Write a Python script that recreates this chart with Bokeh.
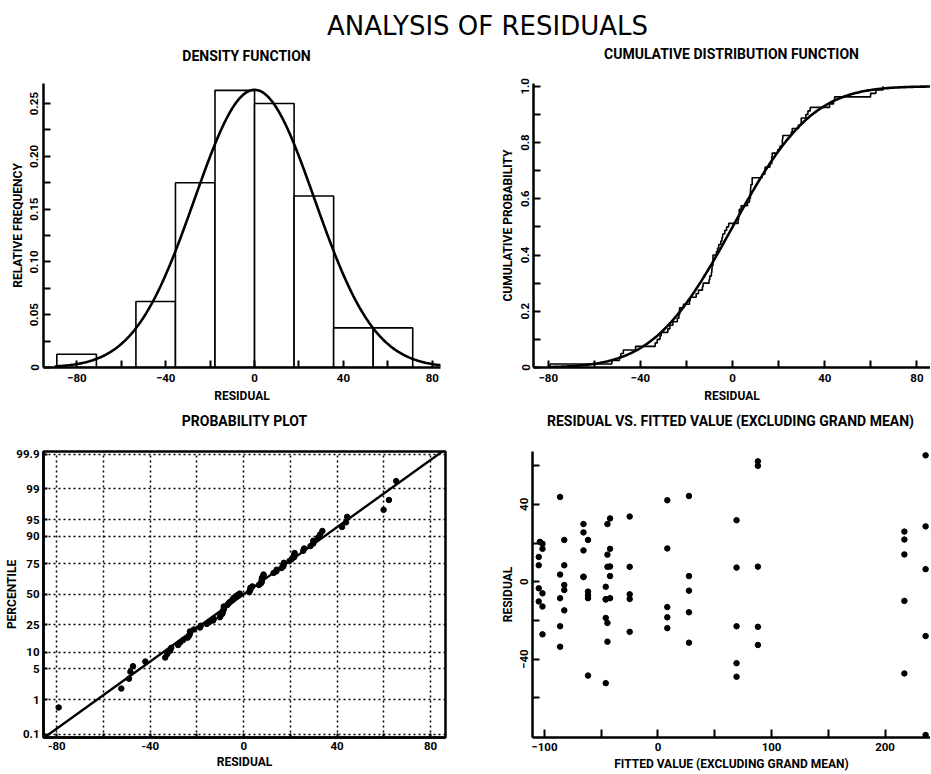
import numpy as np
from statistics import NormalDist
from bokeh.plotting import figure
from bokeh.layouts import column, row
from bokeh.models import FixedTicker, Range1d
from bokeh.embed import file_html
from bokeh.resources import INLINE
from bokeh.core.properties import value

# ---------------- data ----------------
MAIN_TITLE = "ANALYSIS OF RESIDUALS"
TITLE_DENSITY = "DENSITY FUNCTION"
TITLE_CDF = "CUMULATIVE DISTRIBUTION FUNCTION"
TITLE_PROB = "PROBABILITY PLOT"
TITLE_SCATTER = "RESIDUAL VS. FITTED VALUE (EXCLUDING GRAND MEAN)"

# fitted value (excluding grand mean) of each observation
FITTED = [
    -105.0, -105.0, -105.0, -105.0, -104.0,
    -101.7, -101.7, -101.7, -101.7, -101.7,
    -86.2, -86.2, -86.2, -86.2, -86.2,
    -82.5, -82.5, -82.5, -82.5, -82.5,
    -65.6, -65.6, -65.6, -65.6, -65.6,
    -61.6, -61.6, -61.6, -61.6, -61.6,
    -46.0, -46.0, -46.0, -46.0, -46.0,
    -44.5, -44.5, -44.5, -44.5, -44.5,
    -42.2, -42.2, -42.2, -42.2, -42.2,
    -24.9, -24.9, -24.9, -24.9, -24.9,
    8.2, 8.2, 8.2, 8.2, 8.2,
    27.3, 27.3, 27.3, 27.3, 27.3,
    69.2, 69.2, 69.2, 69.2, 69.2,
    88.0, 88.0, 88.0, 88.0, 88.0,
    217.0, 217.0, 217.0, 217.0, 217.0,
    235.7, 235.7, 235.7, 235.7, 235.7,
]
# residual of each observation
RESIDUALS = [
    12.8, 8.5, -3.4, -10.2, 20.6,
    19.6, 17.0, -6.0, -12.8, -27.2,
    43.8, 3.7, -8.5, -23.0, -33.6,
    21.6, 8.5, -1.7, -4.3, -14.8,
    29.8, 25.5, 16.2, 2.6, 2.4,
    21.6, -5.1, -7.0, -8.5, -48.5,
    -2.6, -9.0, -9.2, -18.7, -52.4,
    29.8, 14.0, 7.7, -21.3, -31.0,
    32.7, 17.0, 7.9, 2.9, -8.5,
    33.7, 7.7, -6.5, -8.9, -25.9,
    42.1, 17.2, -13.1, -18.4, -24.0,
    44.3, 2.9, -4.6, -15.8, -31.5,
    31.8, 7.3, -23.0, -42.1, -49.1,
    62.2, 59.9, 7.8, -23.3, -32.7,
    25.9, 21.8, 14.1, -9.9, -47.4,
    65.3, 28.6, 6.5, -28.1, -79.2,
]

BIN_EDGES = [-89.0, -71.2, -53.4, -35.6, -17.8, 0.0, 17.8, 35.6, 53.4, 71.2]
MU = 0.0       # fitted normal mean
SIGMA = 27.0   # fitted normal standard deviation

RES_TICKS = [-80, -40, 0, 40, 80]
RES_MINOR = [-60, -20, 20, 60]
DENS_TICKS = [0.0, 0.05, 0.1, 0.15, 0.2, 0.25]
DENS_LABELS = ["0", "0.05", "0.10", "0.15", "0.20", "0.25"]
DENS_MINOR = [0.025, 0.075, 0.125, 0.175, 0.225]
CDF_TICKS = [0.0, 0.2, 0.4, 0.6, 0.8, 1.0]
CDF_LABELS = ["0", "0.2", "0.4", "0.6", "0.8", "1.0"]
CDF_MINOR = [0.1, 0.3, 0.5, 0.7, 0.9]
PROB_XTICKS = [-80, -60, -40, -20, 0, 20, 40, 60, 80]
PROB_XLABELS = ["-80", "", "-40", "", "0", "", "40", "", "80"]
PCT_TICKS = [0.1, 1, 5, 10, 25, 50, 75, 90, 95, 99, 99.9]
PCT_LABELS = ["0.1", "1", "5", "10", "25", "50", "75", "90", "95", "99", "99.9"]
FIT_TICKS = [-100, 0, 100, 200]
FIT_MINOR = [-50, 50, 150]
RESY_TICKS = [-40, 0, 40]
RESY_MINOR = [-60, -20, 20, 60]

# ---------------- styling helpers ----------------
FONT = "Roboto"
SUB_SIZE = "14px"


def make_fig(width, height, xr, yr, bl, br, bt, bb):
    p = figure(width=width, height=height, x_range=Range1d(*xr), y_range=Range1d(*yr),
               output_backend="svg", toolbar_location=None, title=None,
               min_border_left=bl, min_border_right=br, min_border_top=bt, min_border_bottom=bb)
    p.grid.visible = False
    p.outline_line_color = None
    p.background_fill_color = "white"
    p.border_fill_color = "white"
    return p


def make_strip(width, height):
    s = figure(width=width, height=height, x_range=Range1d(0, width), y_range=Range1d(0, height),
               x_axis_location=None, y_axis_location=None, min_border=0, title=None,
               output_backend="svg", toolbar_location=None)
    s.outline_line_color = None
    s.grid.visible = False
    return s


def strip_text(s, x, y_from_top, text, font, size, style):
    s.text(x=[x], y=[s.height - y_from_top], text=[text], text_align="center",
           text_baseline="middle", text_font=value(font), text_font_size=size,
           text_font_style=style, text_color="black")


def style_axis(ax, ticks, minor, labels, label, orient="horizontal", lab_so=5, axlab_so=4, tick_len=7):
    ax.ticker = FixedTicker(ticks=ticks, minor_ticks=minor)
    if labels is not None:
        ax.major_label_overrides = {t: s for t, s in zip(ticks, labels)}
    ax.axis_label = label
    ax.axis_line_width = 2.5
    ax.axis_line_color = "black"
    ax.major_tick_in = tick_len
    ax.major_tick_out = 0
    ax.minor_tick_in = tick_len
    ax.minor_tick_out = 0
    ax.major_tick_line_width = 2
    ax.minor_tick_line_width = 2
    ax.major_label_text_font = FONT
    ax.major_label_text_font_size = "11.5px"
    ax.major_label_text_font_style = "bold"
    ax.major_label_text_color = "black"
    ax.axis_label_text_font = FONT
    ax.axis_label_text_font_size = "12px"
    ax.axis_label_text_font_style = "bold"
    ax.axis_label_text_color = "black"
    ax.major_label_standoff = lab_so
    ax.axis_label_standoff = axlab_so
    ax.major_label_orientation = orient


res = np.array(RESIDUALS)
n = len(res)
nd = NormalDist(MU, SIGMA)

# ---------------- header with main title and top subtitles ----------------
hdr = make_strip(930, 65)
strip_text(hdr, 487, 25.5, MAIN_TITLE, "DejaVu Sans", "26px", "normal")
strip_text(hdr, 246, 55, TITLE_DENSITY, FONT, SUB_SIZE, "bold")
strip_text(hdr, 731, 53, TITLE_CDF, FONT, SUB_SIZE, "bold")

# ---------------- density ----------------
p1 = make_fig(470, 340, (-95.0, 83.7), (0, 0.269), 43, 30, 18, 35)
counts, edges = np.histogram(res, bins=np.array(BIN_EDGES))
relfreq = counts / n
p1.quad(left=edges[:-1], right=edges[1:], bottom=0, top=relfreq,
        fill_color="white", line_color="black", line_width=1.6)
bw = BIN_EDGES[1] - BIN_EDGES[0]
xc = np.linspace(-90, 84, 300)
p1.line(xc, [bw * nd.pdf(v) for v in xc], line_color="black", line_width=2.6)
style_axis(p1.xaxis[0], RES_TICKS, RES_MINOR, None, "RESIDUAL", lab_so=6, axlab_so=4)
style_axis(p1.yaxis[0], DENS_TICKS, DENS_MINOR, DENS_LABELS, "RELATIVE FREQUENCY",
           orient="vertical", lab_so=5, axlab_so=3)

# ---------------- CDF ----------------
p2 = make_fig(460, 340, (-86.4, 85.9), (0, 1.01), 63, 0, 18, 37)
xs = np.sort(res)
ys = np.arange(1, n + 1) / n
p2.step(np.concatenate([[xs[0]], xs]), np.concatenate([[0.0], ys]), mode="after",
        line_color="black", line_width=1.6)
xc2 = np.linspace(-79, 86, 300)
p2.line(xc2, [nd.cdf(v) for v in xc2], line_color="black", line_width=2.6)
style_axis(p2.xaxis[0], RES_TICKS, RES_MINOR, None, "RESIDUAL", lab_so=6, axlab_so=4)
style_axis(p2.yaxis[0], CDF_TICKS, CDF_MINOR, CDF_LABELS, "CUMULATIVE PROBABILITY",
           orient="vertical", lab_so=4, axlab_so=4)

# ---------------- middle strip with bottom subtitles ----------------
mid = make_strip(930, 27)
strip_text(mid, 244, 15, TITLE_PROB, FONT, SUB_SIZE, "bold")
strip_text(mid, 730, 15, TITLE_SCATTER, FONT, SUB_SIZE, "bold")

# ---------------- probability plot ----------------
p3 = make_fig(470, 341, (-85.7, 86.4), (-3.16, 3.15), 43, 25, 19, 33)
p3.outline_line_color = "black"
p3.outline_line_width = 2.5
pp = [NormalDist().inv_cdf((i + 0.5) / n) for i in range(n)]
xl = np.array([-85.7, 86.4])
p3.line(xl, (xl - MU) / SIGMA, line_color="black", line_width=2.4)
p3.scatter(xs, pp, size=5.5, color="black")
pct_z = [NormalDist().inv_cdf(v / 100.0) for v in PCT_TICKS]
style_axis(p3.xaxis[0], PROB_XTICKS, [], PROB_XLABELS, "RESIDUAL", lab_so=4, axlab_so=2, tick_len=4)
style_axis(p3.yaxis[0], pct_z, [], PCT_LABELS, "PERCENTILE", lab_so=4, axlab_so=-6, tick_len=4)
for g in (p3.xgrid[0], p3.ygrid[0]):
    g.visible = True
    g.grid_line_color = "black"
    g.grid_line_dash = "2 3"
    g.grid_line_width = 1.5
    g.grid_line_alpha = 1.0

# ---------------- residual vs fitted ----------------
p4 = make_fig(460, 341, (-110.5, 240.0), (-80.5, 67.3), 62, 0, 16, 36)
p4.scatter(FITTED, RESIDUALS, size=5.5, color="black")
style_axis(p4.xaxis[0], FIT_TICKS, FIT_MINOR, None, "FITTED VALUE (EXCLUDING GRAND MEAN)",
           lab_so=5, axlab_so=3, tick_len=8)
style_axis(p4.yaxis[0], RESY_TICKS, RESY_MINOR, None, "RESIDUAL",
           orient="vertical", lab_so=4, axlab_so=3)

layout = column(hdr, row(p1, p2), mid, row(p3, p4))
open("out.html", "w").write(file_html(layout, INLINE))
